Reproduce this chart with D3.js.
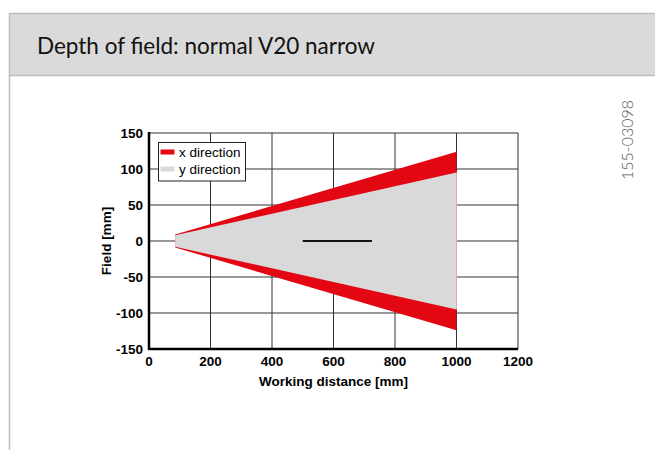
<!DOCTYPE html>
<html>
<head>
<meta charset="utf-8">
<script src="https://cdn.jsdelivr.net/npm/d3@7"></script>
<style>
  body { margin: 0; background: #fff; }
  svg { display: block; }
</style>
</head>
<body>
<svg></svg>
<script>
// field width vs working distance, narrow optics
var distance = [85, 1000];
var xHalfField = [9, 124];   // x direction (red)
var yHalfField = [8, 95];    // y direction (grey)
var focusRange = [500, 725];
var xTicks = [0, 200, 400, 600, 800, 1000, 1200];
var yTicks = [150, 100, 50, 0, -50, -100, -150];
var legendLabels = ['x direction', 'y direction'];

var width = 655, height = 450;
var svg = d3.select('svg').attr('width', width).attr('height', height);

// page frame + header
svg.append('rect')
    .attr('x', 9.5).attr('y', 13.5)
    .attr('width', 660).attr('height', 62)
    .attr('fill', '#dadada')
    .attr('stroke', '#bdbdbd').attr('stroke-width', 1.5);
svg.append('line')
    .attr('x1', 9.5).attr('x2', 9.5)
    .attr('y1', 75).attr('y2', height)
    .attr('stroke', '#bdbdbd').attr('stroke-width', 1.5);
svg.append('text')
    .attr('x', 37).attr('y', 54)
    .attr('font-family', 'Lato, sans-serif')
    .attr('font-size', 22.5)
    .attr('fill', '#111')
    .text('Depth of field: normal V20 narrow');

svg.append('text')
    .attr('transform', 'translate(633,140) rotate(-90)')
    .attr('text-anchor', 'middle')
    .attr('font-family', 'Lato, sans-serif')
    .attr('font-weight', 300)
    .attr('font-size', 16)
    .attr('fill', '#555')
    .text('155-03098');

var x = d3.scaleLinear().domain([0, 1200]).range([149, 518]);
var y = d3.scaleLinear().domain([-150, 150]).range([349, 133]);

var g = svg.append('g');

// grid
g.selectAll('.vgrid').data(xTicks).enter().append('line')
    .attr('x1', d => x(d)).attr('x2', d => x(d))
    .attr('y1', y(150)).attr('y2', y(-150))
    .attr('stroke', '#333').attr('stroke-width', 1);
g.selectAll('.hgrid').data(yTicks).enter().append('line')
    .attr('x1', x(0)).attr('x2', x(1200))
    .attr('y1', d => y(d)).attr('y2', d => y(d))
    .attr('stroke', '#333').attr('stroke-width', 1);

// x and y field cones
var area = function(half) {
  var pts = distance.map((d, i) => [x(d), y(half[i])]);
  var bot = distance.map((d, i) => [x(d), y(-half[i])]).reverse();
  return d3.line()(pts.concat(bot)) + 'Z';
};
g.append('path')
    .attr('d', area(xHalfField))
    .attr('fill', '#e30613');
g.append('path')
    .attr('d', area(yHalfField))
    .attr('fill', '#d9d9d9');
g.append('line')
    .attr('x1', x(distance[1])).attr('x2', x(distance[1]))
    .attr('y1', y(yHalfField[1])).attr('y2', y(-yHalfField[1]))
    .attr('stroke', '#f0a0a5').attr('stroke-width', 1);

// focus marker
g.append('line')
    .attr('x1', x(focusRange[0])).attr('x2', x(focusRange[1]))
    .attr('y1', y(0)).attr('y2', y(0))
    .attr('stroke', '#111').attr('stroke-width', 2);

// axes
g.append('line')
    .attr('x1', x(0)).attr('x2', x(0))
    .attr('y1', y(150) - 1).attr('y2', y(-150) + 1)
    .attr('stroke', '#000').attr('stroke-width', 2.5);
g.append('line')
    .attr('x1', x(0) - 1).attr('x2', x(1200))
    .attr('y1', y(-150)).attr('y2', y(-150))
    .attr('stroke', '#000').attr('stroke-width', 2.5);

var font = 'Liberation Sans, Arial, sans-serif';
g.selectAll('.ylab').data(yTicks).enter().append('text')
    .attr('x', x(0) - 6).attr('y', d => y(d) + 5)
    .attr('text-anchor', 'end')
    .attr('font-family', font).attr('font-weight', 'bold').attr('font-size', 13.5)
    .text(d => d);
g.selectAll('.xlab').data(xTicks).enter().append('text')
    .attr('x', d => x(d)).attr('y', y(-150) + 17)
    .attr('text-anchor', 'middle')
    .attr('font-family', font).attr('font-weight', 'bold').attr('font-size', 13.5)
    .text(d => d);

svg.append('text')
    .attr('x', x(600)).attr('y', 386)
    .attr('text-anchor', 'middle')
    .attr('font-family', font).attr('font-weight', 'bold').attr('font-size', 13.5)
    .text('Working distance [mm]');
svg.append('text')
    .attr('transform', 'translate(111,' + y(0) + ') rotate(-90)')
    .attr('text-anchor', 'middle')
    .attr('font-family', font).attr('font-weight', 'bold').attr('font-size', 13.5)
    .text('Field [mm]');

// legend
var lg = svg.append('g').attr('transform', 'translate(158.5,142.5)');
lg.append('rect')
    .attr('width', 87).attr('height', 38.5)
    .attr('fill', '#fff').attr('stroke', '#222').attr('stroke-width', 1);
var swatch = ['#e30613', '#d9d9d9'];
legendLabels.forEach(function(l, i) {
  lg.append('rect')
      .attr('x', 2).attr('y', 7 + i * 17)
      .attr('width', 14).attr('height', 5)
      .attr('fill', swatch[i]);
  lg.append('text')
      .attr('x', 20.5).attr('y', 14 + i * 17)
      .attr('font-family', font).attr('font-size', 13.5)
      .text(l);
});
</script>
</body>
</html>
